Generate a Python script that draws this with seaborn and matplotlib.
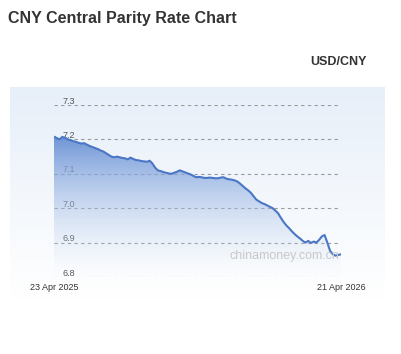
import matplotlib
matplotlib.use("Agg")
import matplotlib.pyplot as plt
import matplotlib.dates as mdates
import numpy as np
import pandas as pd
import seaborn as sns
from matplotlib.patches import Polygon

# half-weekly fixing values (USD/CNY)
start_date = "2025-04-23"
end_date = "2026-04-21"
rates = [
    7.208, 7.204, 7.200, 7.207, 7.205, 7.200, 7.198, 7.195, 7.193, 7.190,
    7.188, 7.189, 7.185, 7.181, 7.178, 7.175, 7.172, 7.168, 7.165, 7.160,
    7.155, 7.150, 7.148, 7.150, 7.148, 7.146, 7.145, 7.142, 7.147, 7.143,
    7.140, 7.139, 7.137, 7.136, 7.135, 7.138, 7.130, 7.118, 7.110, 7.108,
    7.105, 7.103, 7.101, 7.100, 7.103, 7.106, 7.110, 7.107, 7.104, 7.101,
    7.098, 7.094, 7.090, 7.091, 7.090, 7.088, 7.088, 7.089, 7.088, 7.087,
    7.087, 7.089, 7.090, 7.086, 7.084, 7.083, 7.081, 7.078, 7.072, 7.065,
    7.058, 7.052, 7.045, 7.035, 7.025, 7.020, 7.015, 7.012, 7.008, 7.004,
    7.000, 6.993, 6.985, 6.972, 6.960, 6.950, 6.942, 6.933, 6.925, 6.918,
    6.912, 6.905, 6.900, 6.905, 6.899, 6.903, 6.900, 6.908, 6.918, 6.922,
    6.900, 6.876, 6.866, 6.862, 6.864, 6.866,
]
y_ticks = [6.8, 6.9, 7.0, 7.1, 7.2, 7.3]
x_labels = ["23 Apr 2025", "21 Apr 2026"]

dates = pd.date_range(start_date, end_date, periods=len(rates))
df = pd.DataFrame({"date": dates, "rate": rates})

sns.set_style("white")
plt.rcParams["font.family"] = ["Liberation Sans", "DejaVu Sans"]

fig = plt.figure(figsize=(4.01, 3.54), dpi=100)
W, H = 401, 354

# title and pair label
fig.text(8 / W, 1 - 18 / H, "CNY Central Parity Rate Chart", fontsize=11.5,
         fontweight="bold", color="#333333", va="center", ha="left")
fig.text(367 / W, 1 - 62 / H, "USD/CNY", fontsize=9, fontweight="bold",
         color="#333333", va="center", ha="right")

# panel with light blue gradient background
bg = fig.add_axes([10 / W, 1 - 300 / H, 375 / W, 213 / H], zorder=0)
grad = np.linspace(0, 1, 256).reshape(-1, 1)
top = np.array([0.906, 0.937, 0.976])
bot = np.array([1.0, 1.0, 1.0])
img = top[None, None, :] * (1 - grad[:, :, None]) + bot[None, None, :] * grad[:, :, None]
bg.imshow(img, aspect="auto", extent=[0, 1, 0, 1])
bg.set_axis_off()

ax = fig.add_axes([54 / W, 1 - 277 / H, 287 / W, 172 / H], zorder=1)
ax.patch.set_alpha(0)
x0 = mdates.date2num(dates[0])
x1 = mdates.date2num(dates[-1])
ax.set_xlim(x0, x1)
ax.set_ylim(6.8, 7.3)

# dashed grid lines and in-plot tick labels (drawn under the fill)
for v in y_ticks:
    ax.axhline(v, color="#9a9a9a", lw=0.8, ls=(0, (3, 3)), zorder=1)
    ax.text(x0 + 0.03 * (x1 - x0), v + 0.004, f"{v:.1f}", fontsize=6.5,
            color="#555555", ha="left", va="baseline", zorder=1)

# gradient fill under the line
xs = mdates.date2num(df["date"])
verts = [(xs[0], 6.8)] + list(zip(xs, df["rate"])) + [(xs[-1], 6.8)]
poly = Polygon(verts, closed=True, facecolor="none", edgecolor="none")
ax.add_patch(poly)
fgrad = np.linspace(0, 1, 256).reshape(-1, 1)
c_top = np.array([0.40, 0.56, 0.83, 0.95])
c_bot = np.array([0.85, 0.90, 0.97, 0.0])
fimg = c_top[None, None, :] * (1 - fgrad[:, :, None]) + c_bot[None, None, :] * fgrad[:, :, None]
im = ax.imshow(fimg, aspect="auto", extent=[x0, x1, 6.8, 7.21], zorder=2,
               origin="upper")
im.set_clip_path(poly)

sns.lineplot(data=df, x="date", y="rate", ax=ax, color="#4a76c6", lw=1.5,
             zorder=3)

ax.text(x1 - 0.005 * (x1 - x0), 6.862, "chinamoney.com.cn", fontsize=9,
        color="#c8c8c8", ha="right", va="center", zorder=4)

ax.set_xlim(x0, x1)
ax.set_ylim(6.8, 7.3)
ax.set_xticks([])
ax.set_yticks([])
ax.set_xlabel("")
ax.set_ylabel("")
for s in ax.spines.values():
    s.set_visible(False)

fig.text(54 / W, 1 - 287 / H, x_labels[0], fontsize=6.5, color="#333333",
         ha="center", va="center")
fig.text(341 / W, 1 - 287 / H, x_labels[1], fontsize=6.5, color="#333333",
         ha="center", va="center")

fig.savefig("out.png", dpi=100, facecolor="white")
